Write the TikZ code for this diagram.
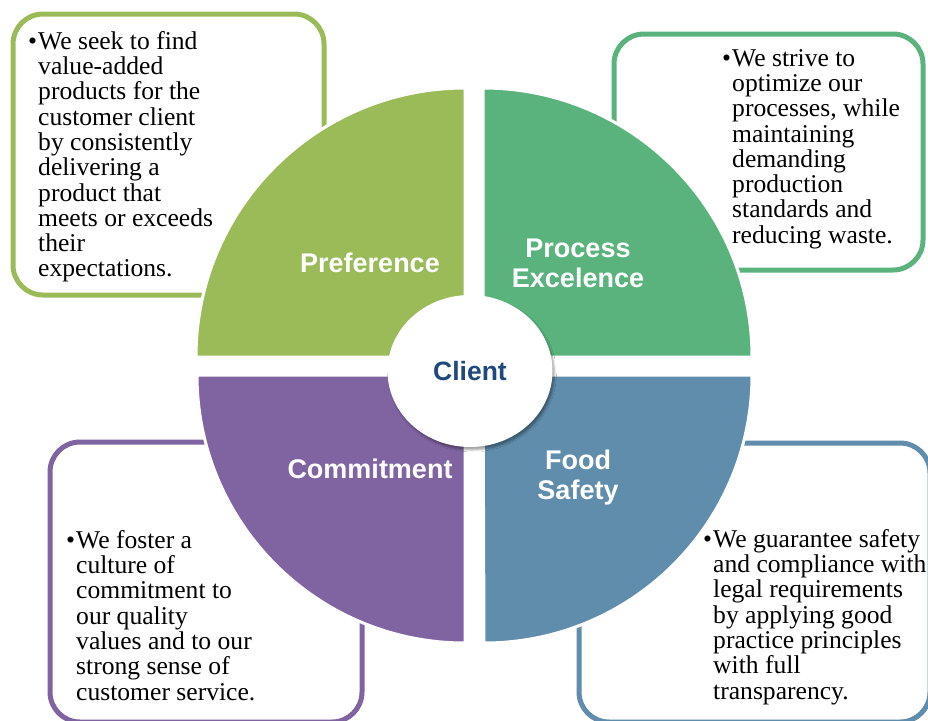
\documentclass[tikz,border=0pt]{standalone}
\usepackage{fontspec}
\setmainfont{Liberation Serif}
\newfontfamily\headfont{Liberation Sans}
\usetikzlibrary{shadows.blur, shapes.geometric}
\usepackage{xcolor}
\definecolor{prefgreen}{HTML}{9BBB59}
\definecolor{procgreen}{HTML}{5AB37D}
\definecolor{safeblue}{HTML}{608DAC}
\definecolor{commpurple}{HTML}{8064A2}
\definecolor{clientblue}{HTML}{1F497D}
\tikzset{box/.style={line width=5pt, rounded corners=30pt},
         quarter/.style={draw=white, line width=3pt},
         bullettext/.style={anchor=north west, inner sep=0pt, align=left,
                            font=\fontsize{25.6}{25.3}\selectfont},
         heading/.style={text=white, align=center,
                         font=\headfont\bfseries\fontsize{27}{30}\selectfont}}

\begin{document}
\begin{tikzpicture}[x=1pt, y=-1pt]
        \useasboundingbox (0,0) rectangle (928,720);

        % Boxes behind the wheel
        \draw[box, prefgreen] (13,14) rectangle (324,295);
        \draw[box, procgreen] (614,34) rectangle (923,270);
        \draw[box, commpurple] (50,442) rectangle (362,722);
        \draw[box, safeblue] (579,443) rectangle (930,722);

        % Four quarters of the wheel
        \filldraw[quarter, fill=prefgreen] (465,357) -- (196,357) arc[start angle=180, end angle=270, radius=269] -- cycle;
        \filldraw[quarter, fill=procgreen] (483,357) -- (483,88) arc[start angle=270, end angle=360, radius=269] -- cycle;
        \filldraw[quarter, fill=safeblue] (483,375) -- (752,375) arc[start angle=0, end angle=90, radius=268] -- cycle;
        \filldraw[quarter, fill=commpurple] (465,375) -- (465,643) arc[start angle=90, end angle=180, radius=268] -- cycle;

        % Hub
        \node[ellipse, fill=white, minimum width=165pt, minimum height=152pt,
              blur shadow={shadow xshift=2pt, shadow yshift=-3pt, shadow opacity=35},
              text=clientblue, font=\headfont\bfseries\fontsize{26.5}{30}\selectfont] (client) at (470,371) {Client};

        % Quarter titles
        \node[heading] (prefLabel) at (370,263) {Preference};
        \node[heading] (procLabel) at (578,263) {Process\\Excelence};
        \node[heading] (commLabel) at (370,469) {Commitment};
        \node[heading] (safeLabel) at (578,478) {Food\\Safety};

        % Texts in the boxes
        \node[bullettext] (prefText) at (38,31) {\llap{\textbullet\hspace{1pt}}We seek to find\\value-added\\products for the\\customer client\\by consistently\\delivering a\\product that\\meets or exceeds\\their\\expectations.};
        \node[bullettext] (procText) at (732,49) {\llap{\textbullet\hspace{1pt}}We strive to\\optimize our\\processes, while\\maintaining\\demanding\\production\\standards and\\reducing waste.};
        \node[bullettext] (commText) at (76,530) {\llap{\textbullet\hspace{1pt}}We foster a\\culture of\\commitment to\\our quality\\values and to our\\strong sense of\\customer service.};
        \node[bullettext] (safeText) at (713,529) {\llap{\textbullet\hspace{1pt}}We guarantee safety\\and compliance with\\legal requirements\\by applying good\\practice principles\\with full\\transparency.};

    \end{tikzpicture}
\end{document}
